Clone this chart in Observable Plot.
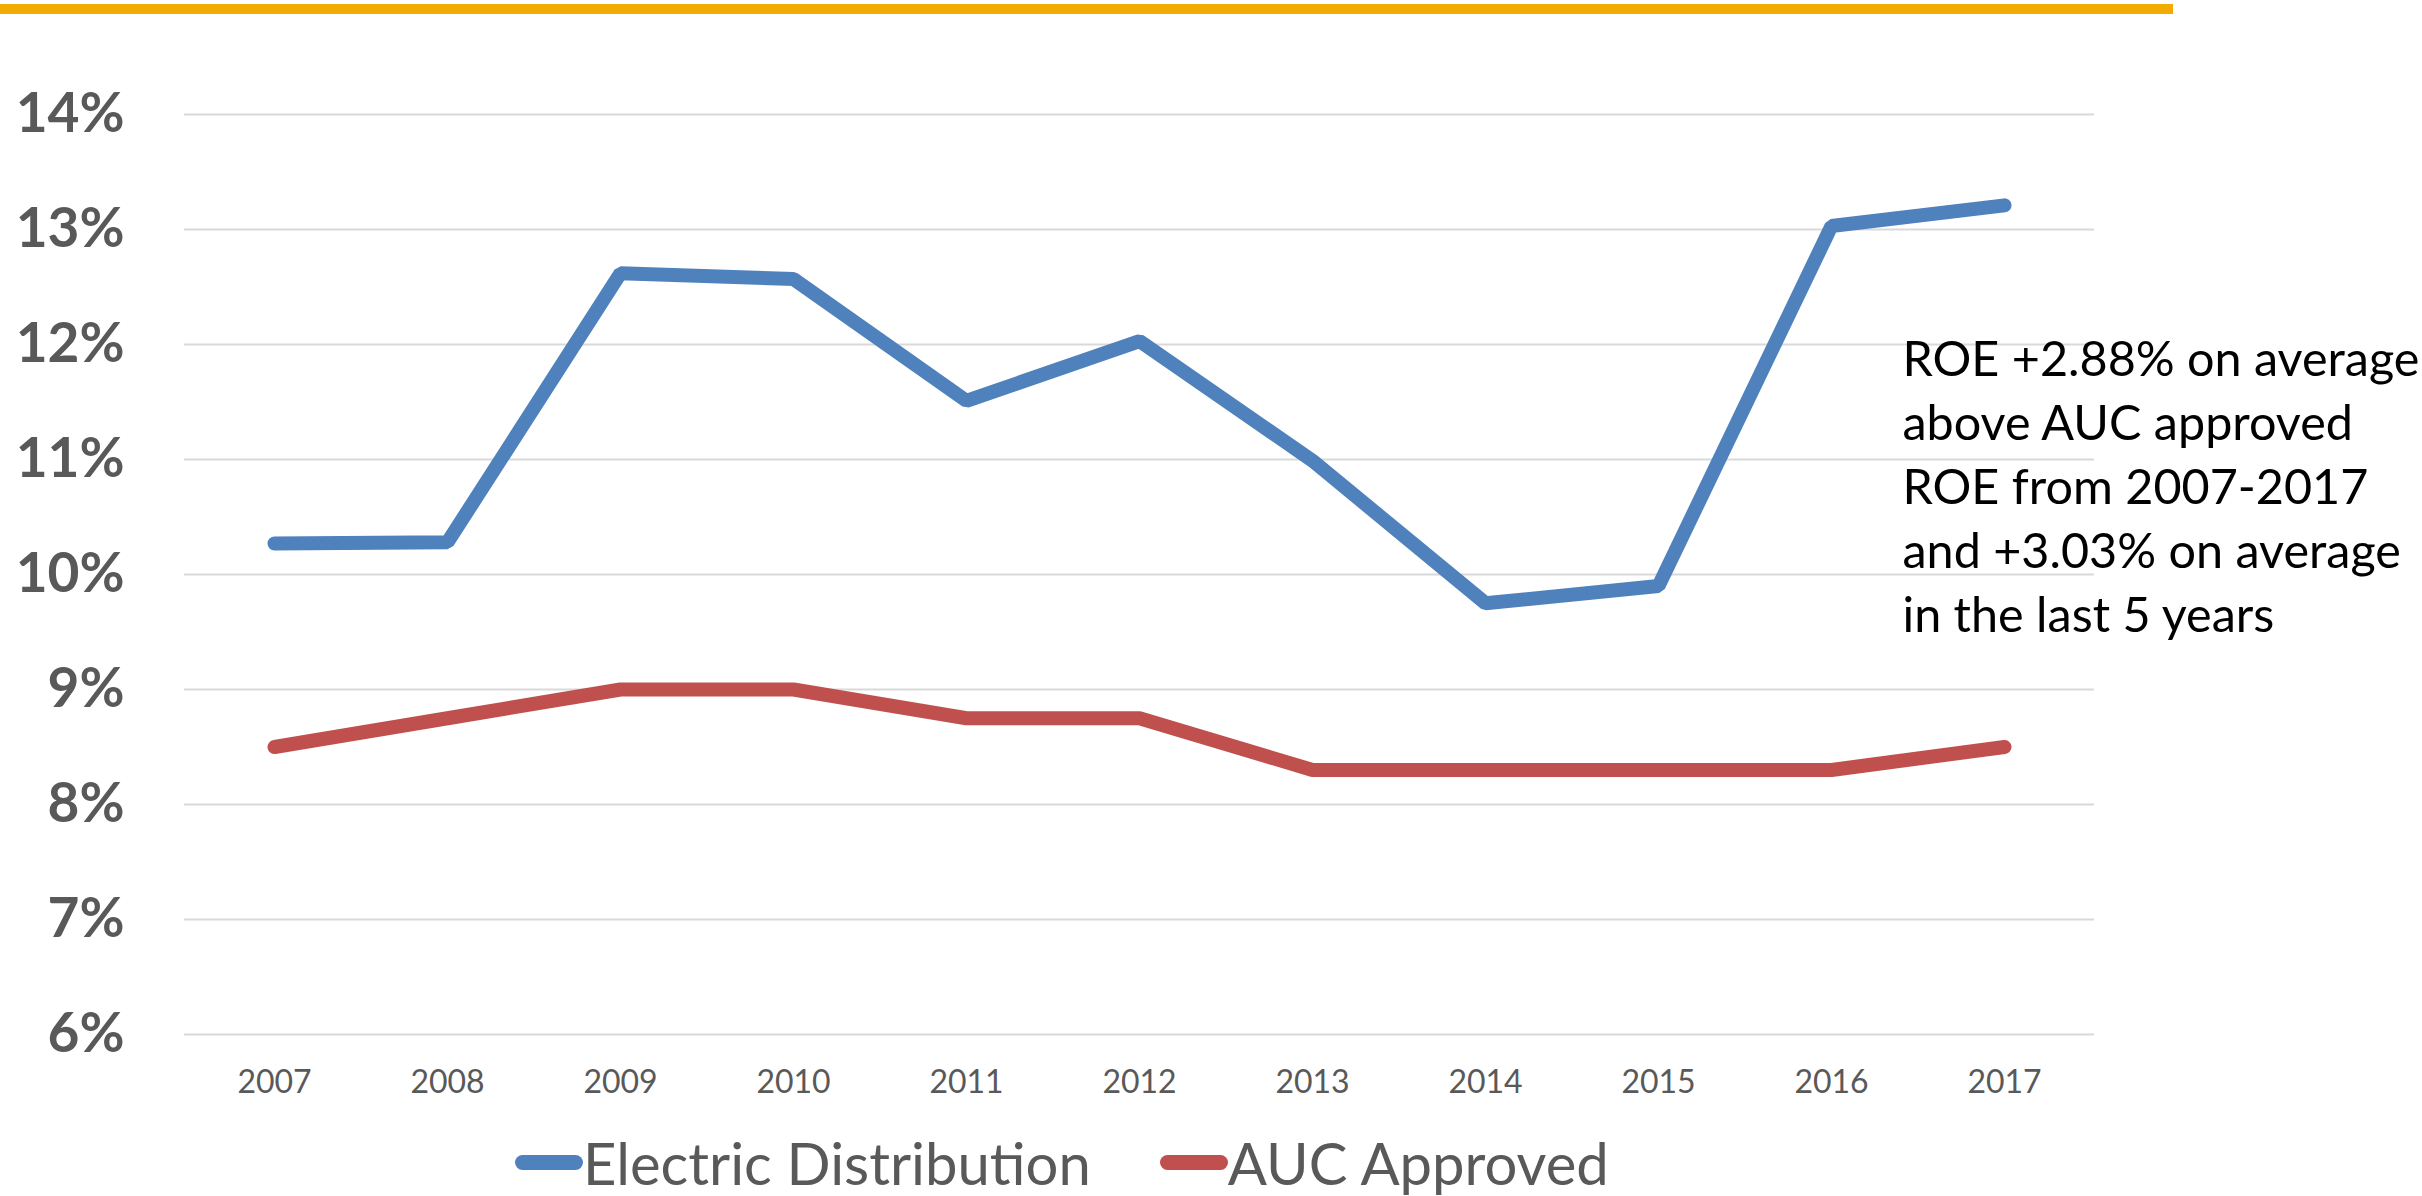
<!DOCTYPE html>
<html>
<head>
<meta charset="utf-8">
<script src="https://cdn.jsdelivr.net/npm/d3@7"></script>
<script src="https://cdn.jsdelivr.net/npm/@observablehq/plot@0.6"></script>
<style>
  html, body { margin: 0; padding: 0; background: #ffffff; }
  body { position: relative; width: 2422px; height: 1196px; overflow: hidden; font-family: Lato, "Open Sans", sans-serif; }
  #topbar { position: absolute; left: 0; top: 4px; width: 2173px; height: 10px; background: #F2AB00; }
  #chart svg { display: block; }
  #legend { position: absolute; left: 515px; top: 1131px; height: 62px; display: flex; align-items: center; font-family: Lato, sans-serif; font-size: 58px; color: #595959; }
  .item { display: flex; align-items: center; margin-right: 69px; }
  .sw { width: 68px; height: 15px; border-radius: 8px; }
</style>
</head>
<body>
<div id="topbar"></div>
<div id="chart"></div>
<div id="legend"></div>
<script>
const years = ["2007", "2008", "2009", "2010", "2011", "2012", "2013", "2014", "2015", "2016", "2017"];
const electricDistribution = [10.27, 10.28, 12.62, 12.57, 11.51, 12.03, 10.99, 9.75, 9.90, 13.03, 13.21];
const aucApproved = [8.50, 8.75, 9.00, 9.00, 8.75, 8.75, 8.30, 8.30, 8.30, 8.30, 8.50];
const seriesNames = ["Electric Distribution", "AUC Approved"];
const seriesColors = ["#4F81BD", "#C0504D"];
const yTicks = [6, 7, 8, 9, 10, 11, 12, 13, 14];
const annotationLines = [
  "ROE +2.88% on average",
  "above AUC approved",
  "ROE from 2007-2017",
  "and +3.03% on average",
  "in the last 5 years"
];

const rows = [];
years.forEach((yr, i) => rows.push({year: yr, value: electricDistribution[i], series: seriesNames[0]}));
years.forEach((yr, i) => rows.push({year: yr, value: aucApproved[i], series: seriesNames[1]}));

const plot = Plot.plot({
  width: 2422,
  height: 1120,
  marginTop: 114,
  marginBottom: 86,
  marginLeft: 184,
  marginRight: 328,
  style: {fontFamily: "Lato, sans-serif", background: "transparent", overflow: "visible"},
  x: {type: "point", domain: years, padding: 0.5},
  y: {domain: [6, 14]},
  color: {domain: seriesNames, range: seriesColors},
  marks: [
    Plot.gridY(yTicks, {stroke: "#D9D9D9", strokeOpacity: 1, strokeWidth: 2}),
    Plot.axisY(yTicks, {tickSize: 0, tickPadding: 60, fontSize: 55, fontWeight: "bold", color: "#595959", tickFormat: d => `${d}%`, label: null}),
    Plot.axisX({tickSize: 0, tickPadding: 36, fontSize: 32, color: "#595959", label: null}),
    Plot.line(rows, {x: "year", y: "value", z: "series", stroke: "series", strokeWidth: 14, strokeLinecap: "round", strokeLinejoin: "miter"}),
    Plot.text([annotationLines.join("\n")], {
      frameAnchor: "top-right", textAnchor: "start", lineAnchor: "top",
      dx: -192, dy: 216, fontSize: 48.5, lineHeight: 1.32, fill: "#000000", fontFamily: "Lato, sans-serif"
    })
  ]
});
document.getElementById("chart").appendChild(plot);

const legend = document.getElementById("legend");
seriesNames.forEach((name, i) => {
  const item = document.createElement("div");
  item.className = "item";
  const sw = document.createElement("span");
  sw.className = "sw";
  sw.style.background = seriesColors[i];
  const label = document.createElement("span");
  label.textContent = name;
  item.appendChild(sw);
  item.appendChild(label);
  legend.appendChild(item);
});
</script>
</body>
</html>
